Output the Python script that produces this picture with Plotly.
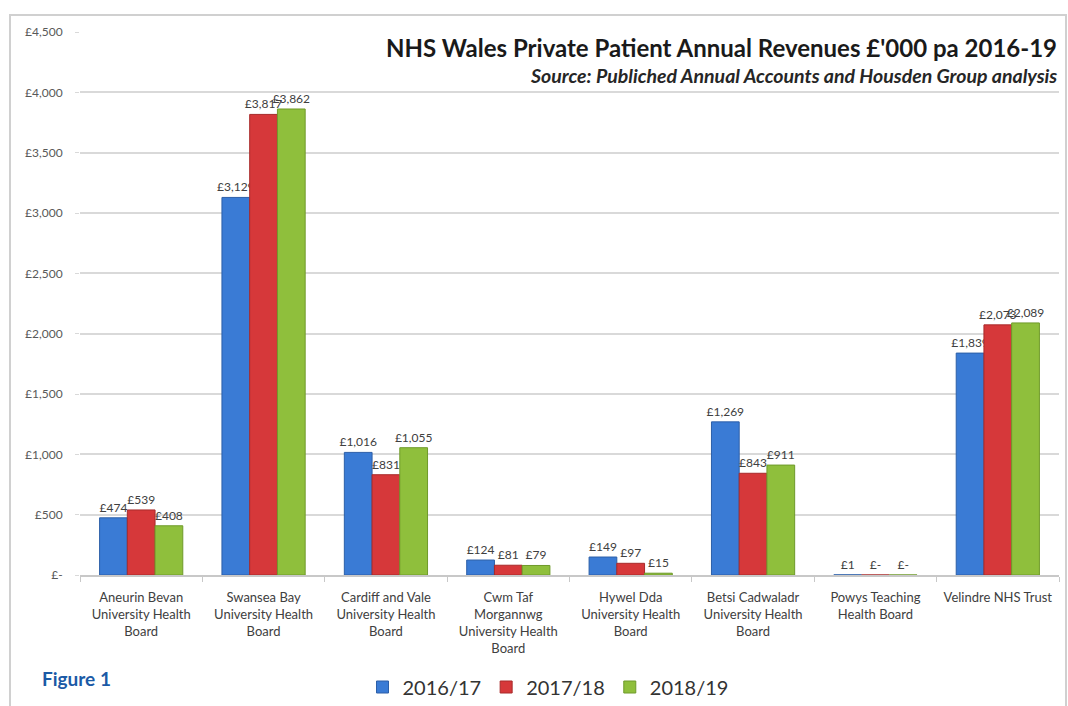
import plotly.graph_objects as go

categories = [
    "Aneurin Bevan<br>University Health<br>Board",
    "Swansea Bay<br>University Health<br>Board",
    "Cardiff and Vale<br>University Health<br>Board",
    "Cwm Taf<br>Morgannwg<br>University Health<br>Board",
    "Hywel Dda<br>University Health<br>Board",
    "Betsi Cadwaladr<br>University Health<br>Board",
    "Powys Teaching<br>Health Board",
    "Velindre NHS Trust",
]
series_names = ["2016/17", "2017/18", "2018/19"]
v_2016_17 = [474, 3129, 1016, 124, 149, 1269, 1, 1839]
v_2017_18 = [539, 3817, 831, 81, 97, 843, 0, 2073]
v_2018_19 = [408, 3862, 1055, 79, 15, 911, 0, 2089]
y_tick_vals = [0, 500, 1000, 1500, 2000, 2500, 3000, 3500, 4000, 4500]
y_tick_text = ["£-", "£500", "£1,000", "£1,500", "£2,000", "£2,500", "£3,000", "£3,500", "£4,000", "£4,500"]

colors = ["#3a7bd5", "#d6383a", "#8fbf3c"]
edge = ["#2c5fa8", "#a82a2a", "#6f9a2a"]

W, H = 1068, 706
L, R, T, B = 80, 9, 32, 131
PW, PH = W - L - R, H - T - B


def px(x):
    return (x - L) / PW


def py(y):
    return (H - B - y) / PH


def fmt(v):
    return "£-" if v == 0 else "£{:,}".format(v)


fig = go.Figure()
for name, vals, c, e in zip(series_names, [v_2016_17, v_2017_18, v_2018_19], colors, edge):
    fig.add_trace(go.Bar(
        name=name, x=categories, y=vals,
        marker=dict(color=c, line=dict(color=e, width=1)),
        text=[fmt(v) for v in vals], textposition="outside",
        textfont=dict(family="Lato", size=12, color="#404040"),
        cliponaxis=False, constraintext="none",
    ))

fig.update_layout(
    width=W, height=H, barmode="group", bargap=0.32, bargroupgap=0,
    margin=dict(l=L, r=R, t=T, b=B, autoexpand=False),
    paper_bgcolor="white", plot_bgcolor="white",
    font=dict(family="Lato", color="#404040"),
    legend=dict(orientation="h", x=px(548), xanchor="center", y=py(687), yanchor="middle",
                font=dict(family="Lato", size=20, color="#333333"), traceorder="normal",
                itemwidth=30),
    xaxis=dict(showgrid=False, showline=True, linecolor="#c8c8c8", linewidth=1.5,
               ticks="outside", tickson="boundaries", ticklen=5, tickcolor="#c8c8c8",
               ticklabelstandoff=10, automargin=False,
               tickfont=dict(family="Lato", size=13, color="#404040")),
    yaxis=dict(range=[0, 4500], tickvals=y_tick_vals, ticktext=y_tick_text,
               showgrid=True, gridcolor="#d9d9d9", gridwidth=1.5, zeroline=False,
               ticks="outside", ticklen=4, tickcolor="#d9d9d9", ticklabelstandoff=10,
               automargin=False,
               tickfont=dict(family="Lato", size=12, color="#595959")),
    showlegend=True,
)

fig.add_annotation(xref="paper", yref="paper", x=px(1059), y=py(47), xanchor="right", yanchor="middle",
                   text="<b>NHS Wales Private Patient Annual Revenues £'000 pa 2016-19</b>",
                   showarrow=False, font=dict(family="Lato", size=24, color="#1a1a1a"))
fig.add_annotation(xref="paper", yref="paper", x=px(1059), y=py(75), xanchor="right", yanchor="middle",
                   text="<b><i>Source: Publiched Annual Accounts and Housden Group analysis</i></b>",
                   showarrow=False, font=dict(family="Lato", size=19.5, color="#262626"))
fig.add_annotation(xref="paper", yref="paper", x=px(40), y=py(678), xanchor="left", yanchor="middle",
                   text="<b>Figure 1</b>", showarrow=False,
                   font=dict(family="Lato", size=19, color="#1b5aa6"))
fig.add_shape(type="rect", xref="paper", yref="paper",
              x0=px(10), x1=px(1066), y0=py(730), y1=py(15),
              line=dict(color="#d0d0d0", width=2), fillcolor="rgba(0,0,0,0)", layer="below")

fig.write_html("out.html", config={"displayModeBar": False},
               post_script="document.body.style.margin='0';document.body.style.overflow='hidden';")
